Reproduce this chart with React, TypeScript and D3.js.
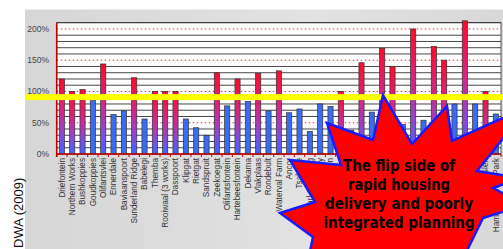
import React from 'react';
import { scaleBand, scaleLinear, range } from 'd3';

// treatment works (DWA 2009), percentage of design capacity
const works = [
  'Driefontein', 'Northern Works', 'Bushkoppies', 'Goudkoppies', 'Olifantsvlei',
  'Ennerdale', 'Baviaanspoort', 'Sunderland Ridge', 'Babelegi', 'Themba',
  'Rooiwaal (3 works)', 'Dasspoort', 'Klipgat', 'Rietgat', 'Sandspruit',
  'Zeekoegat', 'Olifantsfontein', 'Hartebeesfontein', 'Dekama', 'Vlakplaas',
  'Rondebult', 'Waterval Farm', 'Ancor', 'Tsakane', 'Carl Grundling',
  'Herbert Bickley', 'Daveyton', 'JP Marais', 'Welgedacht', 'Benoni',
  'Rynfield', 'Springs', 'Nigel', 'Ratanda', 'Balfour',
  'Meyerton', 'Sebokeng', 'Leeuwkuil', 'Rietspruit', 'Vereeniging',
  'Ennerdale Ext', 'Heidelberg Glen', 'Hammanskraal Park',
];
const capacity = [
  120, 100, 103, 86, 144, 63, 69, 122, 56, 100,
  100, 100, 56, 42, 30, 130, 77, 120, 84, 129,
  69, 133, 66, 72, 36, 80, 76, 100, 38, 146,
  67, 169, 140, 47, 200, 54, 172, 150, 80, 213,
  80, 100, 64,
];
const yTicks = [0, 50, 100, 150, 200];
const gridSteps = range(10, 211, 10);
const highlightLevel = 91;
const calloutLines = ['The flip side of', 'rapid housing', 'delivery and poorly', 'integrated planning'];
const calloutWidths = [112, 102, 148, 151];

const W = 503;
const H = 249;

export default function App() {
  const x = scaleBand<number>()
    .domain(capacity.map((d, i) => i))
    .range([56.7, 501])
    .paddingInner(0.5)
    .paddingOuter(0.25);
  const y = scaleLinear().domain([0, 210]).range([154, 22.7]);
  const [x0, x1] = x.range();

  // callout burst
  const star = [
    [327, 123], [373, 140], [383, 95], [412, 144], [447, 106], [452, 141],
    [529, 106], [477, 171], [520, 178], [493, 188], [525, 205], [483, 218],
    [455, 275], [410, 252], [365, 280], [335, 255], [305, 275], [313, 237],
    [280, 213], [315, 202], [290, 160], [341, 165],
  ];

  return (
    <svg width={W} height={H} style={{ position: 'absolute', left: 0, top: 0 }}>
      <defs>
        <linearGradient id="hot" x1="0" y1="0" x2="0" y2="1">
          <stop offset="0%" stopColor="#ff0a2a" />
          <stop offset="45%" stopColor="#d0288a" />
          <stop offset="75%" stopColor="#8a48d8" />
          <stop offset="100%" stopColor="#3f66ff" />
        </linearGradient>
        <linearGradient id="paper" x1="0" y1="0" x2="1" y2="0">
          <stop offset="0%" stopColor="#d6d6d6" />
          <stop offset="60%" stopColor="#e2e2e2" />
          <stop offset="100%" stopColor="#d8d8d8" />
        </linearGradient>
      </defs>
      <rect width={W} height={H} fill="#fff" />
      <rect x={25} y={9.5} width={W - 25} height={H - 9.5} fill="url(#paper)" />
      <rect x={x0} y={y(210)} width={x1 - x0} height={y(0) - y(210)} fill="#fff" stroke="#333" strokeWidth={0.8} />

      {gridSteps.map((v) => (
        v % 50 === 0 ? (
          <line key={v} x1={x0} x2={x1} y1={y(v)} y2={y(v)} stroke="#e03030" strokeWidth={1} strokeDasharray="1.5,2.5" />
        ) : (
          <line key={v} x1={x0} x2={x1} y1={y(v)} y2={y(v)} stroke="#333" strokeWidth={0.9} />
        )
      ))}

      {capacity.map((v, i) => (
        <rect
          key={i}
          x={x(i)}
          y={y(v)}
          width={x.bandwidth()}
          height={y(0) - y(v)}
          fill={v >= 100 ? 'url(#hot)' : '#3a6cf2'}
          stroke="#333"
          strokeWidth={0.7}
        />
      ))}

      <line x1={x0} x2={x0} y1={y(210)} y2={y(0) + 3} stroke="#c00000" strokeWidth={1.6} />
      <line x1={x0} x2={x1} y1={y(0)} y2={y(0)} stroke="#c00000" strokeWidth={1.6} />
      {range(capacity.length + 1).map((i) => (
        <line key={i} x1={x0 + i * x.step()} x2={x0 + i * x.step()} y1={y(0)} y2={y(0) + 3} stroke="#c00000" strokeWidth={1} />
      ))}

      {yTicks.map((v) => (
        <text key={v} x={49} y={y(v)} dy="0.35em" textAnchor="end" fontFamily="Liberation Sans, Arial, sans-serif" fontSize={8.5} fill="#444">
          {v}%
        </text>
      ))}

      {works.map((name, i) => (
        <text
          key={name}
          transform={`translate(${x(i)! + x.bandwidth() / 2},${y(0) + 4}) rotate(-90)`}
          dy="0.35em"
          textAnchor="end"
          fontFamily="Liberation Sans, Arial, sans-serif"
          fontSize={8.2}
          fill="#333"
        >
          {name}
        </text>
      ))}

      <rect x={25} y={y(highlightLevel) - 3} width={W - 25} height={6} fill="#ffff00" />

      <text transform="translate(23,248) rotate(-90)" fontFamily="Liberation Sans, Arial, sans-serif" fontSize={13} fill="#111">
        DWA (2009)
      </text>

      <polygon points={star.map((p) => p.join(',')).join(' ')} fill="#ff0000" stroke="#1a1aff" strokeWidth={2.5} strokeLinejoin="miter" />
      {calloutLines.map((line, i) => (
        <text
          key={line}
          x={399}
          y={171 + i * 19}
          textAnchor="middle"
          fontFamily="DejaVu Sans, Verdana, sans-serif"
          fontWeight="bold"
          fontSize={15}
          textLength={calloutWidths[i]}
          lengthAdjust="spacingAndGlyphs"
          fill="#000"
        >
          {line}
        </text>
      ))}
    </svg>
  );
}
